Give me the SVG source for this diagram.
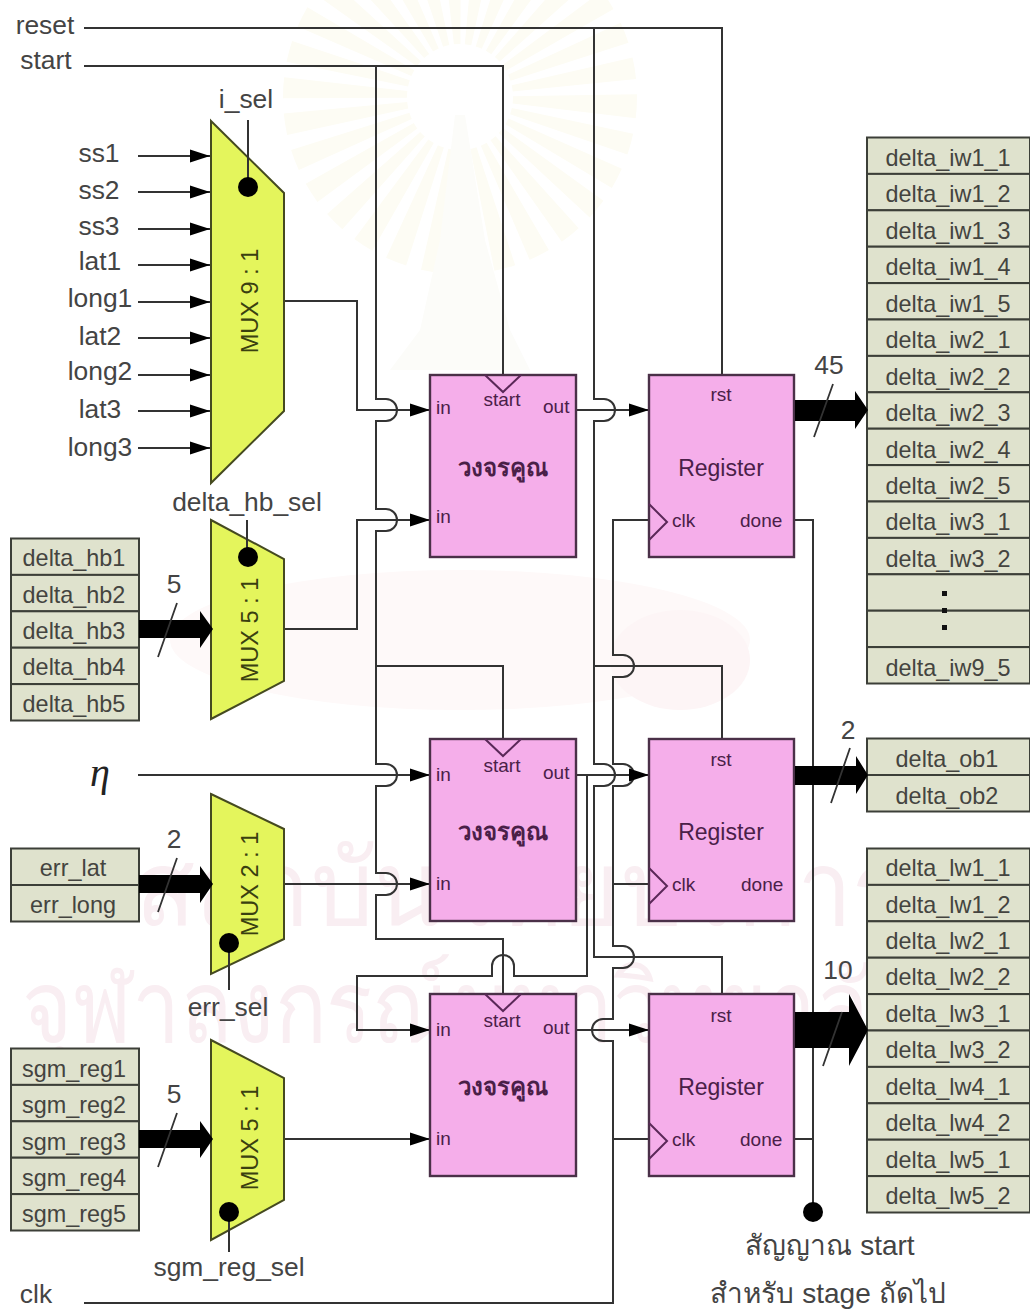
<svg xmlns="http://www.w3.org/2000/svg" width="1030" height="1309" viewBox="0 0 1030 1309">
<style>
text{font-family:"Liberation Sans","Noto Sans",sans-serif;fill:#444}
.l{font-size:26.4px;text-anchor:middle}
.th{font-size:28px;text-anchor:middle}
.c{font-size:23.4px;text-anchor:middle;fill:#444440}
.p{font-size:19px;fill:#4a2048}
.m{text-anchor:middle}
.t{font-size:24px;font-weight:bold;text-anchor:middle;fill:#4a2048}
.r{font-size:23px;text-anchor:middle;fill:#4a2048}
.mx{font-size:23.5px;text-anchor:middle;fill:#3a4010}
.w{fill:none;stroke:#333;stroke-width:2}
.b{fill:#f5aeea;stroke:#4a3048;stroke-width:2.4}
.cell{fill:#dfe2cd;stroke:#3c3f38;stroke-width:2}
.mux{fill:#e4f55c;stroke:#454a20;stroke-width:2}
.tri{fill:none;stroke:#5a2858;stroke-width:2}
.tick{stroke:#333;stroke-width:1.8}
.wm{fill:#f9eef2}
</style>
<defs>
<marker id="a" markerUnits="userSpaceOnUse" markerWidth="22" markerHeight="14" refX="20" refY="7" orient="auto"><path d="M0,0.5 L20,7 L0,13.5 Z" fill="#000"/></marker>
</defs>
<rect width="1030" height="1309" fill="#fff"/>
<g id="watermark">
<circle cx="460" cy="97" r="115" fill="none" stroke="#fdfcf4" stroke-width="124" stroke-dasharray="14 10"/>
<path d="M455,115 H465 L485,240 L510,330 L530,370 H390 L420,330 L440,240 Z" fill="#fcfcf9"/>
<ellipse cx="460" cy="640" rx="290" ry="70" fill="#fef9f9"/>
<ellipse cx="680" cy="660" rx="70" ry="50" fill="#fdf5f6"/>
<text class="wm" x="135" y="925" font-size="105" textLength="770" lengthAdjust="spacingAndGlyphs">สถาบันวิทยบริการ</text>
<text class="wm" transform="translate(22,1042) scale(0.86,1)" font-size="100">จุฬาลงกรณ์มหาวิทยาลัย</text>
</g>
<g id="connectors">
<path class="w" d="M84,28 H722 V375"/>
<path class="w" d="M84,66 H503 V375"/>
<path class="w" d="M376,66 V399 H386 A11,11 0 0 1 386,421 H376 V509 H386 A11,11 0 0 1 386,531 H376 V764 H386 A11,11 0 0 1 386,786 H376 V873 H386 A11,11 0 0 1 386,895 H376 V939 H503 V993"/>
<path class="w" d="M376,666 H503 V739"/>
<path class="w" d="M594,28 V399 H604 A11,11 0 0 1 604,421 H594 V764 H604 A11,11 0 0 1 604,786 H594 V957 H722 V993"/>
<path class="w" d="M594,666 H722 V739"/>
<path class="w" d="M649,520 H613 V655 H623 A11,11 0 0 1 623,677 H613 V764 H623 A11,11 0 0 1 623,786 H613 V946 H623 A11,11 0 0 1 623,968 H613 V1019 H603 A11,11 0 0 0 603,1041 H613 V1303 H84"/>
<path class="w" d="M613,884 H649 M613,1139 H649"/>
<path class="w" d="M284,301 H357 V410 H430" marker-end="url(#a)"/>
<path class="w" d="M284,629 H357 V520 H430" marker-end="url(#a)"/>
<path class="w" d="M284,884 H430" marker-end="url(#a)"/>
<path class="w" d="M284,1139 H430" marker-end="url(#a)"/>
<path class="w" d="M138,775 H430" marker-end="url(#a)"/>
<path class="w" d="M576,410 H649" marker-end="url(#a)"/>
<path class="w" d="M576,775 H649" marker-end="url(#a)"/>
<path class="w" d="M576,1030 H649" marker-end="url(#a)"/>
<path class="w" d="M587,775 V976 H514 V966 A11,11 0 0 0 492,966 V976 H357 V1030 H430" marker-end="url(#a)"/>
<path class="w" d="M795,520 H813 V1212 M795,1139 H813"/>
<circle cx="813" cy="1212" r="10" fill="#000"/>
<path class="w" d="M138,156 H210" marker-end="url(#a)"/>
<path class="w" d="M138,192 H210" marker-end="url(#a)"/>
<path class="w" d="M138,229 H210" marker-end="url(#a)"/>
<path class="w" d="M138,265 H210" marker-end="url(#a)"/>
<path class="w" d="M138,302 H210" marker-end="url(#a)"/>
<path class="w" d="M138,338 H210" marker-end="url(#a)"/>
<path class="w" d="M138,375 H210" marker-end="url(#a)"/>
<path class="w" d="M138,411 H210" marker-end="url(#a)"/>
<path class="w" d="M138,448 H210" marker-end="url(#a)"/>
</g>
<g id="mux-9">
<path class="mux" d="M211,121 L284,193 V411 L211,483 Z"/>
<text class="mx" transform="translate(258,301) rotate(-90)">MUX 9 : 1</text>
<path class="w" d="M248,120 V187"/>
<circle cx="248" cy="187" r="10" fill="#000"/>
</g>
<g id="mux-hb">
<path class="mux" d="M211,520 L284,559 V681 L211,719 Z"/>
<text class="mx" transform="translate(258,630) rotate(-90)">MUX 5 : 1</text>
<path class="w" d="M247,520 V557"/>
<circle cx="248" cy="557" r="10" fill="#000"/>
</g>
<g id="mux-err">
<path class="mux" d="M211,794 L284,829 V939 L211,974 Z"/>
<text class="mx" transform="translate(258,884) rotate(-90)">MUX 2 : 1</text>
<path class="w" d="M229,943 V990"/>
<circle cx="229" cy="943" r="10" fill="#000"/>
</g>
<g id="mux-sgm">
<path class="mux" d="M211,1040 L284,1078 V1200 L211,1240 Z"/>
<text class="mx" transform="translate(258,1138) rotate(-90)">MUX 5 : 1</text>
<path class="w" d="M229,1212 V1252"/>
<circle cx="229" cy="1212" r="10" fill="#000"/>
</g>
<g id="mult-1">
<rect class="b" x="430" y="375" width="146" height="182"/>
<path class="tri" d="M485,375 L503,392 L521,375"/>
<text class="p" x="436" y="414">in</text><text class="p" x="436" y="523">in</text>
<text class="p m" x="502" y="406">start</text><text class="p" x="543" y="413">out</text>
<text class="t" x="503" y="476">วงจรคูณ</text>
</g>
<g id="mult-2">
<rect class="b" x="430" y="739" width="146" height="182"/>
<path class="tri" d="M485,739 L503,756 L521,739"/>
<text class="p" x="436" y="781">in</text><text class="p" x="436" y="890">in</text>
<text class="p m" x="502" y="772">start</text><text class="p" x="543" y="779">out</text>
<text class="t" x="503" y="840">วงจรคูณ</text>
</g>
<g id="mult-3">
<rect class="b" x="430" y="994" width="146" height="182"/>
<path class="tri" d="M485,994 L503,1011 L521,994"/>
<text class="p" x="436" y="1036">in</text><text class="p" x="436" y="1145">in</text>
<text class="p m" x="502" y="1027">start</text><text class="p" x="543" y="1034">out</text>
<text class="t" x="503" y="1095">วงจรคูณ</text>
</g>
<g id="reg-1">
<rect class="b" x="649" y="375" width="145" height="182"/>
<path class="tri" d="M649,504 L667,522 L649,540"/>
<text class="p m" x="721" y="401">rst</text>
<text class="r" x="721" y="476">Register</text>
<text class="p" x="672" y="527">clk</text><text class="p" x="740" y="527">done</text>
</g>
<g id="reg-2">
<rect class="b" x="649" y="739" width="145" height="182"/>
<path class="tri" d="M649,868 L667,886 L649,904"/>
<text class="p m" x="721" y="766">rst</text>
<text class="r" x="721" y="840">Register</text>
<text class="p" x="672" y="891">clk</text><text class="p" x="741" y="891">done</text>
</g>
<g id="reg-3">
<rect class="b" x="649" y="994" width="145" height="182"/>
<path class="tri" d="M649,1123 L667,1141 L649,1159"/>
<text class="p m" x="721" y="1022">rst</text>
<text class="r" x="721" y="1095">Register</text>
<text class="p" x="672" y="1146">clk</text><text class="p" x="740" y="1146">done</text>
</g>
<g id="list-hb">
<rect class="cell" x="11" y="538.5" width="128" height="36.4"/><rect class="cell" x="11" y="574.9" width="128" height="36.4"/><rect class="cell" x="11" y="611.3" width="128" height="36.4"/><rect class="cell" x="11" y="647.7" width="128" height="36.4"/><rect class="cell" x="11" y="684.1" width="128" height="36.4"/>
<text class="c" x="74" y="566">delta_hb1</text><text class="c" x="74" y="603">delta_hb2</text><text class="c" x="74" y="639">delta_hb3</text><text class="c" x="74" y="675">delta_hb4</text><text class="c" x="74" y="712">delta_hb5</text>
</g>
<g id="list-err">
<rect class="cell" x="11" y="848.5" width="128" height="36.5"/><rect class="cell" x="11" y="885" width="128" height="36.5"/>
<text class="c" x="73" y="876">err_lat</text><text class="c" x="73" y="913">err_long</text>
</g>
<g id="list-sgm">
<rect class="cell" x="11" y="1048.5" width="128" height="36.4"/><rect class="cell" x="11" y="1084.9" width="128" height="36.4"/><rect class="cell" x="11" y="1121.3" width="128" height="36.4"/><rect class="cell" x="11" y="1157.7" width="128" height="36.4"/><rect class="cell" x="11" y="1194.1" width="128" height="36.4"/>
<text class="c" x="74" y="1077">sgm_reg1</text><text class="c" x="74" y="1113">sgm_reg2</text><text class="c" x="74" y="1150">sgm_reg3</text><text class="c" x="74" y="1186">sgm_reg4</text><text class="c" x="74" y="1222">sgm_reg5</text>
</g>
<g id="list-iw">
<rect class="cell" x="867" y="137.5" width="163" height="36.4"/><rect class="cell" x="867" y="173.9" width="163" height="36.4"/><rect class="cell" x="867" y="210.3" width="163" height="36.4"/><rect class="cell" x="867" y="246.7" width="163" height="36.4"/><rect class="cell" x="867" y="283.1" width="163" height="36.4"/><rect class="cell" x="867" y="319.5" width="163" height="36.4"/><rect class="cell" x="867" y="355.9" width="163" height="36.4"/><rect class="cell" x="867" y="392.3" width="163" height="36.4"/><rect class="cell" x="867" y="428.7" width="163" height="36.4"/><rect class="cell" x="867" y="465.1" width="163" height="36.4"/><rect class="cell" x="867" y="501.5" width="163" height="36.4"/><rect class="cell" x="867" y="537.9" width="163" height="36.4"/><rect class="cell" x="867" y="574.3" width="163" height="36.4"/><rect class="cell" x="867" y="610.7" width="163" height="36.4"/><rect class="cell" x="867" y="647.1" width="163" height="36.4"/>
<text class="c" x="948" y="166">delta_iw1_1</text><text class="c" x="948" y="202">delta_iw1_2</text><text class="c" x="948" y="239">delta_iw1_3</text><text class="c" x="948" y="275">delta_iw1_4</text><text class="c" x="948" y="312">delta_iw1_5</text><text class="c" x="948" y="348">delta_iw2_1</text><text class="c" x="948" y="385">delta_iw2_2</text><text class="c" x="948" y="421">delta_iw2_3</text><text class="c" x="948" y="458">delta_iw2_4</text><text class="c" x="948" y="494">delta_iw2_5</text><text class="c" x="948" y="530">delta_iw3_1</text><text class="c" x="948" y="567">delta_iw3_2</text><text class="c" x="948" y="676">delta_iw9_5</text>
<rect x="942" y="591" width="5" height="5" fill="#111"/><rect x="942" y="608" width="5" height="5" fill="#111"/><rect x="942" y="625" width="5" height="5" fill="#111"/>
</g>
<g id="list-ob">
<rect class="cell" x="867" y="738.5" width="163" height="36.5"/><rect class="cell" x="867" y="775" width="163" height="36.5"/>
<text class="c" x="947" y="767">delta_ob1</text><text class="c" x="947" y="804">delta_ob2</text>
</g>
<g id="list-lw">
<rect class="cell" x="867" y="848.5" width="163" height="36.4"/><rect class="cell" x="867" y="884.9" width="163" height="36.4"/><rect class="cell" x="867" y="921.3" width="163" height="36.4"/><rect class="cell" x="867" y="957.7" width="163" height="36.4"/><rect class="cell" x="867" y="994.1" width="163" height="36.4"/><rect class="cell" x="867" y="1030.5" width="163" height="36.4"/><rect class="cell" x="867" y="1066.9" width="163" height="36.4"/><rect class="cell" x="867" y="1103.3" width="163" height="36.4"/><rect class="cell" x="867" y="1139.7" width="163" height="36.4"/><rect class="cell" x="867" y="1176.1" width="163" height="36.4"/>
<text class="c" x="948" y="876">delta_lw1_1</text><text class="c" x="948" y="913">delta_lw1_2</text><text class="c" x="948" y="949">delta_lw2_1</text><text class="c" x="948" y="985">delta_lw2_2</text><text class="c" x="948" y="1022">delta_lw3_1</text><text class="c" x="948" y="1058">delta_lw3_2</text><text class="c" x="948" y="1095">delta_lw4_1</text><text class="c" x="948" y="1131">delta_lw4_2</text><text class="c" x="948" y="1168">delta_lw5_1</text><text class="c" x="948" y="1204">delta_lw5_2</text>
</g>
<g id="buses">
<path d="M139,620 H200 V611 L213,629 L200,648 V638 H139 Z" fill="#000"/>
<path d="M139,875 H200 V866 L213,884 L200,903 V893 H139 Z" fill="#000"/>
<path d="M139,1130 H200 V1121 L213,1139 L200,1158 V1148 H139 Z" fill="#000"/>
<path d="M795,400 H855 V391 L868,410 L855,429 V421 H795 Z" fill="#000"/>
<path d="M795,766 H856 V756 L868,775 L856,794 V785 H795 Z" fill="#000"/>
<path d="M795,1012 H849 V994 L868,1030 L849,1066 V1048 H795 Z" fill="#000"/>
<path class="tick" d="M158,657 L177,603 M158,912 L177,858 M158,1167 L177,1113 M814,437 L833,384 M831,803 L850,748 M823,1066 L842,1012"/>
</g>
<g id="labels">
<text class="l" x="45" y="34">reset</text><text class="l" x="46" y="69">start</text><text class="l" x="36" y="1303">clk</text>
<text class="l" x="246" y="108">i_sel</text>
<text class="l" x="99" y="162">ss1</text><text class="l" x="99" y="199">ss2</text><text class="l" x="99" y="235">ss3</text><text class="l" x="100" y="270">lat1</text><text class="l" x="100" y="307">long1</text><text class="l" x="100" y="345">lat2</text><text class="l" x="100" y="380">long2</text><text class="l" x="100" y="418">lat3</text><text class="l" x="100" y="456">long3</text>
<text class="l" x="247" y="511">delta_hb_sel</text><text class="l" x="228" y="1016">err_sel</text><text class="l" x="229" y="1276">sgm_reg_sel</text>
<text class="l" x="174" y="593">5</text><text class="l" x="174" y="848">2</text><text class="l" x="174" y="1103">5</text><text class="l" x="829" y="374">45</text><text class="l" x="848" y="739">2</text><text class="l" x="838" y="979">10</text>
<text x="100" y="786" style="font-family:'Liberation Serif',serif;font-style:italic;font-size:40px;text-anchor:middle;fill:#222">η</text>
<text class="th" x="830" y="1255">สัญญาณ start</text><text class="th" x="828" y="1303">สำหรับ stage ถัดไป</text>
</g>
</svg>
